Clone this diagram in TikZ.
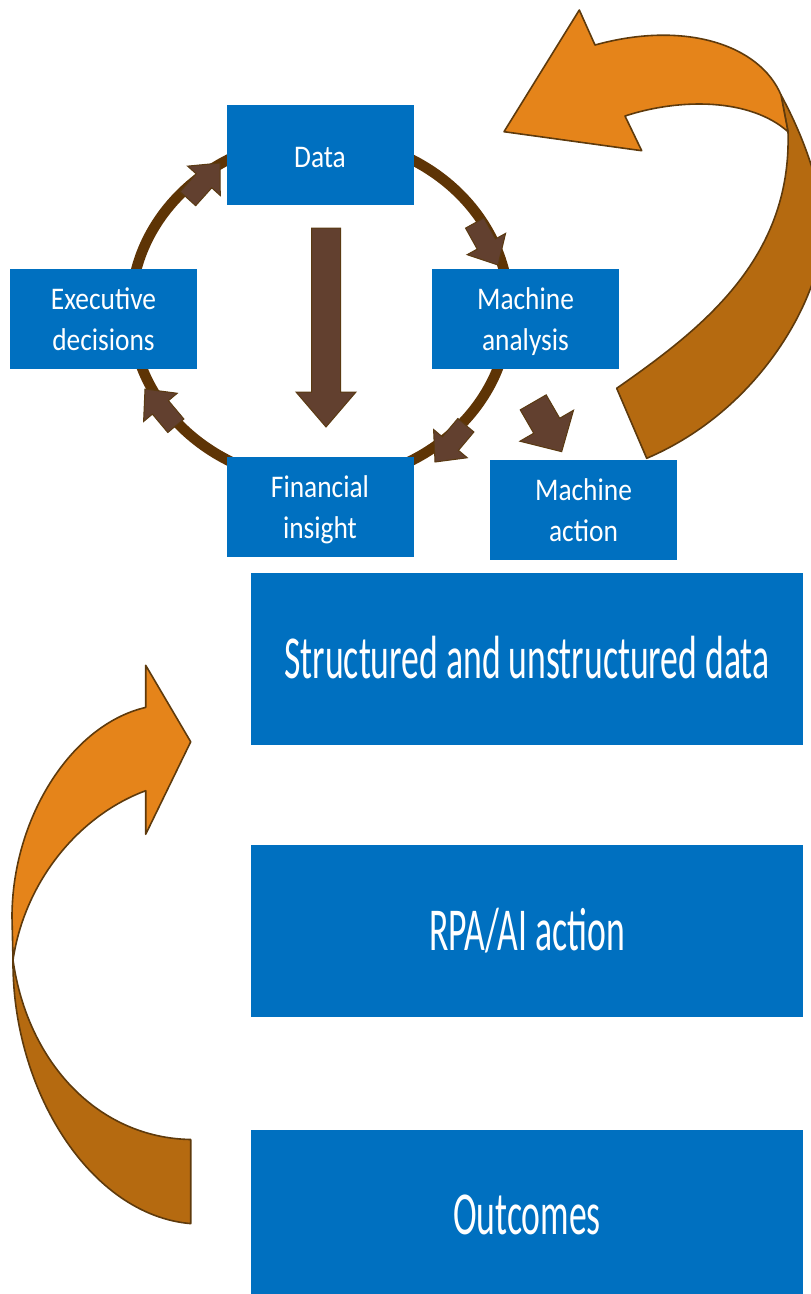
\documentclass[tikz,border=0pt]{standalone}
\usepackage{fontspec}
\newfontfamily\smallfont[FakeStretch=0.87]{Carlito}
\newfontfamily\bigfont[FakeStretch=0.585]{Carlito}
\definecolor{boxblue}{HTML}{0070C0}
\definecolor{ringbrown}{HTML}{5E3405}
\definecolor{arrfill}{HTML}{62402F}
\definecolor{arrline}{HTML}{5A3A12}
\definecolor{orangeL}{HTML}{E5841A}
\definecolor{orangeD}{HTML}{B56A10}
\definecolor{orangeline}{HTML}{5E3A0C}
\newcommand\blockarr[7]{%
  \draw[brarrow, shift={(#1,#2)}, rotate=#3]
    (-#4,-#5/2) -- (-#7,-#5/2) -- (-#7,-#6/2) -- (0,0) -- (-#7,#6/2) -- (-#7,#5/2) -- (-#4,#5/2) -- cycle;}
\tikzset{
  box/.style={fill=boxblue, draw=none, inner sep=0pt, text=white, align=center},
  smallbox/.style={box, minimum width=187pt, minimum height=100pt,
    font={\smallfont\fontsize{31.5pt}{41pt}\selectfont}, text height=63pt, text depth=0pt},
  bigbox/.style={box, minimum width=552pt, minimum height=172pt,
    font={\bigfont\fontsize{61pt}{70pt}\selectfont}, text height=38.5pt, text depth=0pt},
  ringline/.style={draw=ringbrown, line width=10.5pt},
  brarrow/.style={fill=arrfill, draw=arrline, line width=1pt, line join=miter},
  oD/.style={fill=orangeD, draw=orangeline, line width=1.6pt, line join=round},
  oL/.style={fill=orangeL, draw=orangeline, line width=1.6pt, line join=round}
}
\begin{document}
\begin{tikzpicture}[x=1pt,y=-1pt]
\useasboundingbox (0,0) rectangle (811,1294);
\clip (0,0) rectangle (811,1294);

% top-right curved arrow
\draw[oD] (781,95) .. controls (800,130) and (826,190) .. (822,240)
   .. controls (818,300) and (760,410) .. (646.7,458.3) -- (616.7,388.3)
   .. controls (700,330) and (792,260) .. (788,131.7) -- cycle;
\draw[oL] (788,131.7) .. controls (750,98) and (680,98) .. (625,116) -- (641.7,150.7)
   -- (504,131.7) -- (579.3,10) -- (595,45) .. controls (685,20) and (760,45) .. (781,95) -- cycle;

% left curved arrow
\draw[oD] (13,960) .. controls (12,1090) and (90,1215) .. (190.7,1223.6) -- (190.7,1139.5)
   .. controls (100,1138) and (28,1065) .. (13,960) -- cycle;
\draw[oL] (145.7,707.4) -- (145.7,665.3) -- (190.7,741.8) -- (145.7,834.3) -- (145.7,790.7)
   .. controls (80,815) and (25,880) .. (13,960) -- (12,917)
   .. controls (12,820) and (70,725) .. (145.7,707.4) -- cycle;

% ring
\draw[ringline] (320,310) ellipse [x radius=189, y radius=172];

% boxes
\node[smallbox] (data) at (320,155) [text height=24pt] {Data};
\node[smallbox] (exec) at (103.5,318.5) {Executive\\decisions};
\node[smallbox] (manal) at (525.5,318.5) {Machine\\analysis};
\node[smallbox] (fin) at (320,506.5) {Financial\\insight};
\node[smallbox] (mact) at (583.5,510) {Machine\\action};
\node[bigbox] (sud) at (527,659) {Structured and unstructured data};
\node[bigbox] (rpa) at (527,931) {RPA/AI action};
\node[bigbox] (out) at (527,1215.5) {Outcomes};

% ring arrowheads
\blockarr{220}{163}{48}{48}{21}{44}{24}
\blockarr{498}{265}{-61}{48}{21}{44}{24}
\blockarr{435}{462}{230}{48}{21}{44}{24}
\blockarr{145}{389}{130}{48}{21}{44}{24}

% central arrow and machine action arrow
\blockarr{326}{427}{-90}{199}{29}{60}{35}
\blockarr{561.7}{451.7}{-60}{57}{30}{62}{30}
\end{tikzpicture}
\end{document}
